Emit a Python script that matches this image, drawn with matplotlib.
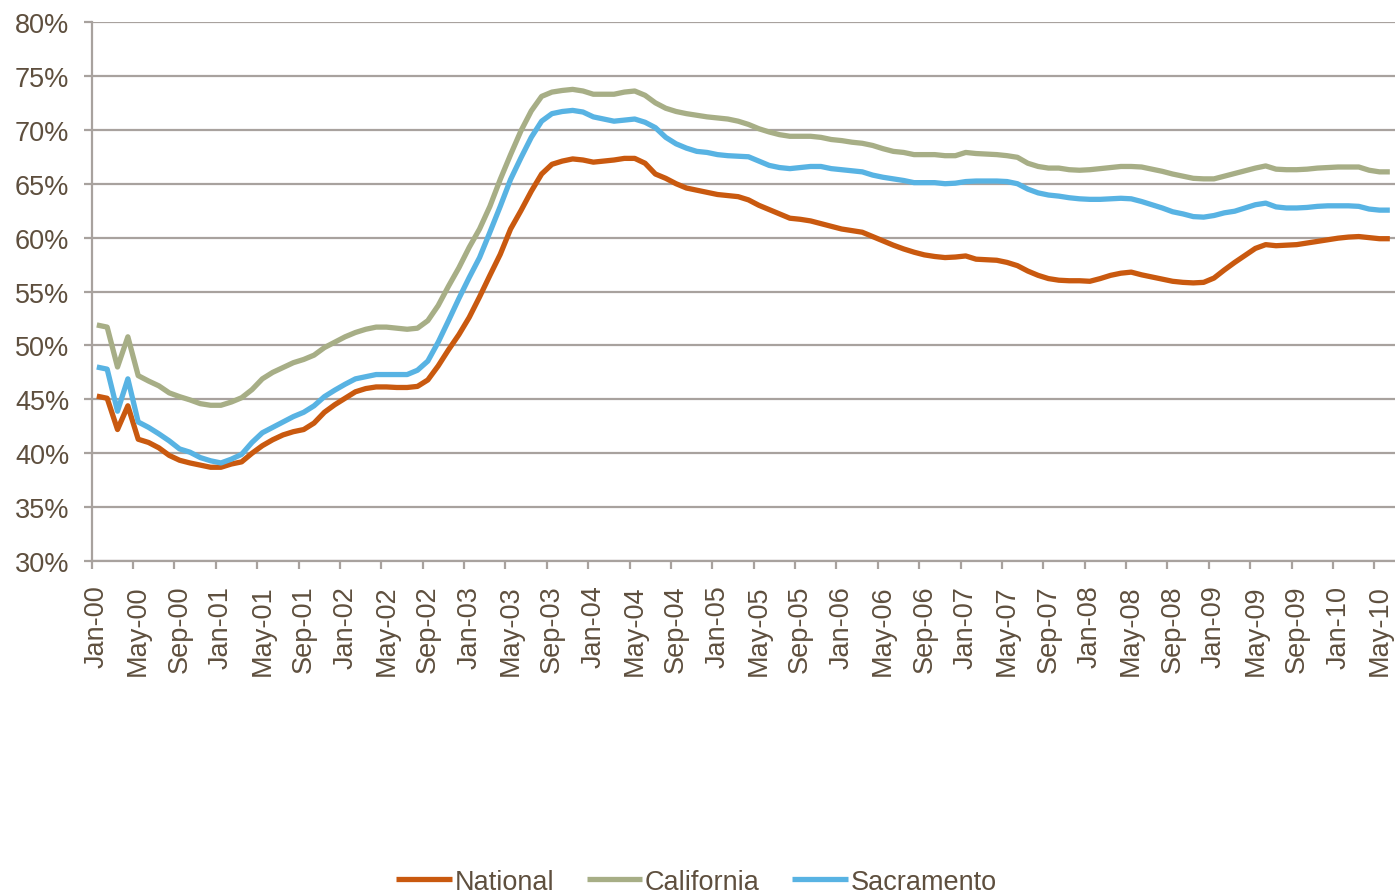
import numpy as np
import pandas as pd
import matplotlib
matplotlib.use("Agg")
import matplotlib.pyplot as plt

# ------------------------------------------------------------------
# data (share, %), monthly Jan-2000 .. Jun-2010
# ------------------------------------------------------------------
months = pd.date_range("2000-01-01", periods=126, freq="MS")
month_labels = [d.strftime("%b-%y") for d in months]

national = [
    45.3, 45.1, 42.2, 44.4, 41.3, 41.0, 40.5, 39.8, 39.35, 39.1, 38.9, 38.7,
    38.7, 39.0, 39.2, 40.0, 40.7, 41.25, 41.7, 42.0, 42.2, 42.8, 43.8, 44.5,
    45.1, 45.7, 46.0, 46.15, 46.15, 46.1, 46.1, 46.2, 46.8, 48.1, 49.6, 51.0,
    52.6, 54.5, 56.5, 58.45, 60.8, 62.5, 64.3, 65.9, 66.8, 67.1, 67.3, 67.2,
    67.0, 67.1, 67.2, 67.35, 67.35, 66.9, 65.9, 65.5, 65.0, 64.6, 64.4, 64.2,
    64.0, 63.9, 63.8, 63.5, 63.0, 62.6, 62.2, 61.8, 61.7, 61.55, 61.3, 61.05,
    60.8, 60.65, 60.5, 60.1, 59.7, 59.3, 58.95, 58.65, 58.4, 58.25, 58.15, 58.2,
    58.3, 58.0, 57.95, 57.9, 57.7, 57.4, 56.9, 56.5, 56.2, 56.05, 56.0, 56.0,
    55.95, 56.2, 56.5, 56.7, 56.8, 56.55, 56.35, 56.15, 55.95, 55.85, 55.8, 55.85,
    56.25, 57.0, 57.7, 58.35, 59.0, 59.35, 59.25, 59.3, 59.35, 59.5, 59.65, 59.8,
    59.95, 60.05, 60.1, 60.0, 59.9, 59.9,
]

california = [
    51.9, 51.7, 48.0, 50.8, 47.2, 46.7, 46.25, 45.6, 45.25, 44.95, 44.6, 44.45,
    44.45, 44.75, 45.15, 45.9, 46.9, 47.5, 47.95, 48.4, 48.7, 49.1, 49.8, 50.3,
    50.8, 51.2, 51.5, 51.7, 51.7, 51.6, 51.5, 51.6, 52.3, 53.7, 55.5, 57.2,
    59.1, 60.8, 62.9, 65.4, 67.7, 69.9, 71.75, 73.1, 73.5, 73.65, 73.75, 73.6,
    73.3, 73.3, 73.3, 73.5, 73.6, 73.2, 72.5, 72.0, 71.7, 71.5, 71.35, 71.2,
    71.1, 71.0, 70.8, 70.5, 70.1, 69.8, 69.55, 69.4, 69.4, 69.4, 69.3, 69.1,
    69.0, 68.85, 68.75, 68.55, 68.25, 68.0, 67.9, 67.7, 67.7, 67.7, 67.6, 67.6,
    67.9, 67.8, 67.75, 67.7, 67.6, 67.45, 66.9, 66.6, 66.45, 66.45, 66.3, 66.25,
    66.3, 66.4, 66.5, 66.6, 66.6, 66.55, 66.35, 66.15, 65.9, 65.7, 65.5, 65.45,
    65.45, 65.7, 65.95, 66.2, 66.45, 66.65, 66.35, 66.3, 66.3, 66.35, 66.45, 66.5,
    66.55, 66.55, 66.55, 66.25, 66.1, 66.1,
]

sacramento = [
    48.0, 47.8, 43.9, 46.9, 42.9, 42.4, 41.8, 41.15, 40.4, 40.1, 39.6, 39.3,
    39.1, 39.45, 39.9, 41.0, 41.9, 42.4, 42.9, 43.4, 43.8, 44.4, 45.25, 45.85,
    46.4, 46.9, 47.1, 47.3, 47.3, 47.3, 47.3, 47.7, 48.55, 50.3, 52.3, 54.35,
    56.3, 58.15, 60.5, 62.9, 65.4, 67.4, 69.3, 70.8, 71.5, 71.7, 71.8, 71.65,
    71.2, 71.0, 70.8, 70.9, 71.0, 70.7, 70.2, 69.3, 68.7, 68.3, 68.0, 67.9,
    67.7, 67.6, 67.55, 67.5, 67.1, 66.7, 66.5, 66.4, 66.5, 66.6, 66.6, 66.4,
    66.3, 66.2, 66.1, 65.8, 65.6, 65.45, 65.3, 65.1, 65.1, 65.1, 65.0, 65.05,
    65.2, 65.25, 65.25, 65.25, 65.2, 65.0, 64.5, 64.15, 63.95, 63.85, 63.7, 63.6,
    63.55, 63.55, 63.6, 63.65, 63.6, 63.35, 63.05, 62.75, 62.4, 62.2, 61.95, 61.9,
    62.05, 62.3, 62.45, 62.75, 63.05, 63.2, 62.85, 62.75, 62.75, 62.8, 62.9, 62.95,
    62.95, 62.95, 62.9, 62.65, 62.55, 62.55,
]

series_names = ["National", "California", "Sacramento"]
series_colors = ["#C9590F", "#A7AE86", "#58B3E3"]

# ------------------------------------------------------------------
# plot
# ------------------------------------------------------------------
plt.rcParams["font.family"] = ["Liberation Sans", "DejaVu Sans"]
text_color = "#5E4F3E"
grid_color = "#A8A29E"
fsize = 19.5

fig = plt.figure(figsize=(13.95, 8.95), dpi=100)
ax = fig.add_axes([0.0657, 0.372, 0.9343, 0.6023])

x = np.arange(len(months))
for vals, name, col in zip([national, california, sacramento], series_names, series_colors):
    ax.plot(x, vals, color=col, lw=3.8, label=name,
            solid_joinstyle="round", solid_capstyle="butt")

ax.set_ylim(30, 80)
ax.set_xlim(-0.5, len(months) - 0.5)
ax.set_yticks(np.arange(30, 81, 5))
ax.set_yticklabels([f"{v}%" for v in range(30, 81, 5)])
ax.yaxis.grid(True, color=grid_color, lw=1.6)
ax.set_axisbelow(True)

# labels centred on every 4th month, tick marks on category boundaries
ax.set_xticks(x[::4])
ax.set_xticklabels(month_labels[::4], rotation=90)
ax.set_xticks(x[::4] - 0.5, minor=True)
ax.tick_params(axis="x", which="major", length=0, pad=17)
ax.tick_params(axis="x", which="minor", length=6, width=1.6, color=grid_color)
ax.tick_params(axis="y", length=6, width=1.6, color=grid_color, pad=10)
ax.tick_params(labelsize=fsize, labelcolor=text_color)

for s in ["top", "right"]:
    ax.spines[s].set_visible(False)
for s in ["left", "bottom"]:
    ax.spines[s].set_color(grid_color)
    ax.spines[s].set_linewidth(1.6)

fig.legend(loc="center", bbox_to_anchor=(0.4993, 0.0135), ncol=3, frameon=False,
           fontsize=fsize, labelcolor=text_color, handlelength=2.05,
           handletextpad=0.1, columnspacing=1.2)

fig.savefig("out.png", dpi=100)
